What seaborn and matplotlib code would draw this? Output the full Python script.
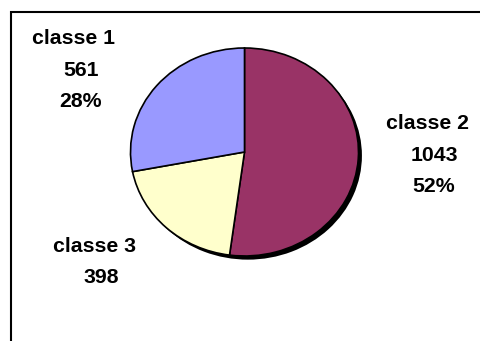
import matplotlib
matplotlib.use("Agg")
import matplotlib.pyplot as plt
import seaborn as sns
from matplotlib.patches import Rectangle

categories = ["classe 1", "classe 2", "classe 3"]
values = [561, 1043, 398]
show_pct = [True, True, False]
colors = ["#9999FF", "#993366", "#FFFFCC"]

sns.set_theme(style="white")
plt.rcParams["font.family"] = ["Liberation Sans", "DejaVu Sans"]

W, H = 480, 341
fig = plt.figure(figsize=(W / 100, H / 100), dpi=100)
fig.patch.set_facecolor("white")

def fx(px):
    return px / W

def fy(py):
    return 1 - py / H

# outer frame (right and bottom run off the image)
fig.patches.append(Rectangle((fx(11), fy(400)), fx(520) - fx(11), fy(12.5) - fy(400),
                             transform=fig.transFigure, fill=False,
                             edgecolor="black", linewidth=1.5, zorder=0))

# pie axes (elliptical pie)
ax = fig.add_axes([fx(130.5), fy(256), fx(358.5) - fx(130.5), fy(48) - fy(256)])
order = [1, 2, 0]  # clockwise from top: classe 2, classe 3, classe 1
vals = [values[i] for i in order]
cols = [colors[i] for i in order]

# shadow
ax.pie([sum(values)], colors=["black"], center=(0.03, -0.035), radius=1.0,
       wedgeprops=dict(linewidth=0))
ax.pie(vals, colors=cols, startangle=90, counterclock=False, radius=1.0,
       wedgeprops=dict(edgecolor="black", linewidth=1.2))
ax.set_xlim(-1.0, 1.0)
ax.set_ylim(-1.0, 1.0)
ax.set_aspect("auto")
ax.axis("off")

total = sum(values)
# label placement (pixel positions of each line's baseline centre)
label_pos = {
    "classe 1": [(73.3, 44.3), (80.8, 76.0), (80.0, 106.7)],
    "classe 2": [(427.5, 129.3), (434.5, 161.0), (434.0, 191.7)],
    "classe 3": [(94.5, 251.7), (101.7, 282.7), (101.7, 313.4)],
}
for cat, v, sp in zip(categories, values, show_pct):
    lines = [cat, f"{v}"]
    if sp:
        lines.append(f"{round(100 * v / total)}%")
    for text, (px, py) in zip(lines, label_pos[cat]):
        fig.text(fx(px), fy(py), text, ha="center", va="baseline",
                 fontsize=15.3, fontweight="bold", color="black")

fig.savefig("out.png", dpi=100)
